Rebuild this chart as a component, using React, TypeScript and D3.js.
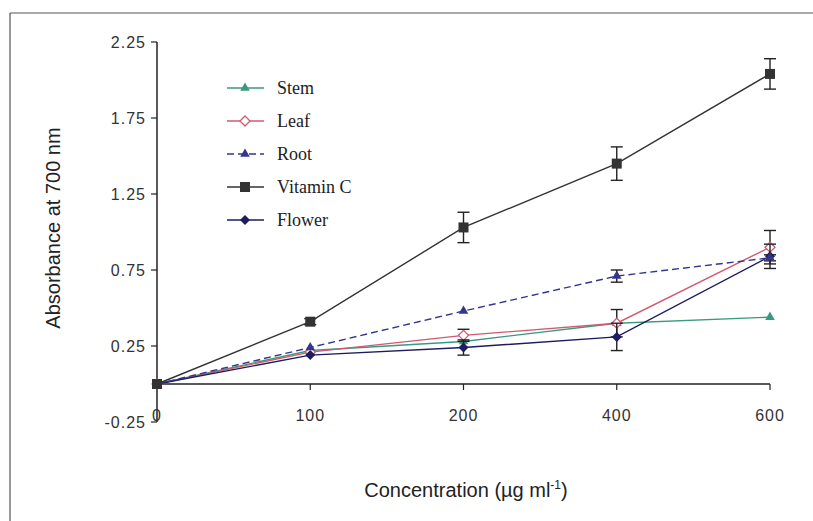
import React from 'react';
import * as d3 from 'd3';

const concentrations = ['0', '100', '200', '400', '600'];
const yTicks = [-0.25, 0.25, 0.75, 1.25, 1.75, 2.25];

const stem = [0, 0.22, 0.28, 0.40, 0.44];
const leaf = [0, 0.21, 0.32, 0.40, 0.90];
const root = [0, 0.24, 0.48, 0.71, 0.83];
const vitaminC = [0, 0.41, 1.03, 1.45, 2.04];
const flower = [0, 0.19, 0.24, 0.31, 0.84];

const leafErr = [0, 0.01, 0.04, 0.09, 0.11];
const rootErr = [0, 0.01, 0.01, 0.04, 0.02];
const vitaminCErr = [0, 0.02, 0.10, 0.11, 0.10];
const flowerErr = [0, 0.01, 0.05, 0.09, 0.08];

const series = [
  { name: 'Stem', values: stem, err: null, color: '#3a9a80', marker: 'triangle', dash: '' },
  { name: 'Leaf', values: leaf, err: leafErr, color: '#d05a70', marker: 'openDiamond', dash: '' },
  { name: 'Root', values: root, err: rootErr, color: '#35358f', marker: 'triangle', dash: '7,4' },
  { name: 'Vitamin C', values: vitaminC, err: vitaminCErr, color: '#333333', marker: 'square', dash: '' },
  { name: 'Flower', values: flower, err: flowerErr, color: '#1c1c5e', marker: 'diamond', dash: '' },
];

const drawOrder = ['Stem', 'Leaf', 'Flower', 'Root', 'Vitamin C'];

function Marker({ type, x, y, color }: { type: string; x: number; y: number; color: string }) {
  if (type === 'square') {
    return <rect x={x - 5} y={y - 5} width={10} height={10} fill={color} />;
  }
  if (type === 'triangle') {
    const p = d3.symbol(d3.symbolTriangle, 40)();
    return <path d={p || ''} transform={`translate(${x},${y})`} fill={color} />;
  }
  if (type === 'diamond') {
    return <path d={`M${x},${y - 5}L${x + 5},${y}L${x},${y + 5}L${x - 5},${y}Z`} fill={color} />;
  }
  return (
    <path
      d={`M${x},${y - 5}L${x + 5},${y}L${x},${y + 5}L${x - 5},${y}Z`}
      fill="#fff"
      stroke={color}
      strokeWidth={1.3}
    />
  );
}

export default function App() {
  const width = 813;
  const height = 521;

  const x = d3.scalePoint<string>().domain(concentrations).range([157, 770]).padding(0);
  const y = d3.scaleLinear().domain([-0.25, 2.25]).range([422, 42]);

  const line = d3.line<number>()
    .x((d, i) => x(concentrations[i]) as number)
    .y(d => y(d));

  const axisFont = '"Liberation Sans", Arial, sans-serif';
  const legendFont = '"Liberation Serif", "Times New Roman", serif';

  const ordered = drawOrder.map(n => series.find(s => s.name === n)!);

  return (
    <svg width={width} height={height} style={{ position: 'absolute', left: 0, top: 0, background: '#fff' }}>
      {/* frame */}
      <line x1={10} y1={13} x2={width} y2={13} stroke="#555" strokeWidth={1.2} />
      <line x1={10} y1={13} x2={10} y2={height} stroke="#555" strokeWidth={1.2} />

      {/* y axis */}
      <line x1={157} y1={y(2.25)} x2={157} y2={y(-0.25)} stroke="#222" strokeWidth={1.5} />
      {yTicks.map(t => (
        <g key={t}>
          <line x1={151} x2={157} y1={y(t)} y2={y(t)} stroke="#222" strokeWidth={1.2} />
          <text x={146} y={y(t)} dy="0.35em" textAnchor="end" fontFamily={axisFont} fontSize={16}
            fill="#333" letterSpacing={1}>
            {t.toFixed(2)}
          </text>
        </g>
      ))}

      {/* x axis */}
      <line x1={157} x2={770} y1={y(0)} y2={y(0)} stroke="#222" strokeWidth={1.5} />
      {concentrations.map(c => (
        <g key={c}>
          <line x1={x(c)} x2={x(c)} y1={y(0)} y2={y(0) + 6} stroke="#222" strokeWidth={1.2} />
          <text x={x(c)} y={421} textAnchor="middle" fontFamily={axisFont} fontSize={16}
            fill="#333" letterSpacing={1}>
            {c}
          </text>
        </g>
      ))}

      {/* axis titles */}
      <text transform="translate(60,228) rotate(-90)" textAnchor="middle" fontFamily={axisFont}
        fontSize={20} fill="#222">
        Absorbance at 700 nm
      </text>
      <text x={466} y={497} textAnchor="middle" fontFamily={axisFont} fontSize={20} fill="#222">
        Concentration (µg ml<tspan dy={-8} fontSize={12}>-1</tspan><tspan dy={8}>)</tspan>
      </text>

      {/* series */}
      {ordered.map(s => (
        <g key={s.name}>
          <path d={line(s.values) || ''} fill="none" stroke={s.color} strokeWidth={1.4}
            strokeDasharray={s.dash} />
          {s.err && s.values.map((v, i) => s.err![i] > 0.015 ? (
            <g key={i} stroke="#222" strokeWidth={1.4}>
              <line x1={x(concentrations[i])} x2={x(concentrations[i])}
                y1={y(v + s.err![i])} y2={y(v - s.err![i])} />
              <line x1={(x(concentrations[i]) as number) - 6} x2={(x(concentrations[i]) as number) + 6}
                y1={y(v + s.err![i])} y2={y(v + s.err![i])} />
              <line x1={(x(concentrations[i]) as number) - 6} x2={(x(concentrations[i]) as number) + 6}
                y1={y(v - s.err![i])} y2={y(v - s.err![i])} />
            </g>
          ) : null)}
          {s.values.map((v, i) => (
            <Marker key={i} type={s.marker} x={x(concentrations[i]) as number} y={y(v)} color={s.color} />
          ))}
        </g>
      ))}

      {/* legend */}
      {series.map((s, i) => {
        const ly = 88 + i * 33;
        return (
          <g key={s.name}>
            <line x1={227} x2={264} y1={ly} y2={ly} stroke={s.color} strokeWidth={1.4}
              strokeDasharray={s.dash} />
            <Marker type={s.marker} x={245} y={ly} color={s.color} />
            <text x={277} y={ly} dy="0.35em" fontFamily={legendFont} fontSize={18} fill="#222">
              {s.name}
            </text>
          </g>
        );
      })}
    </svg>
  );
}
